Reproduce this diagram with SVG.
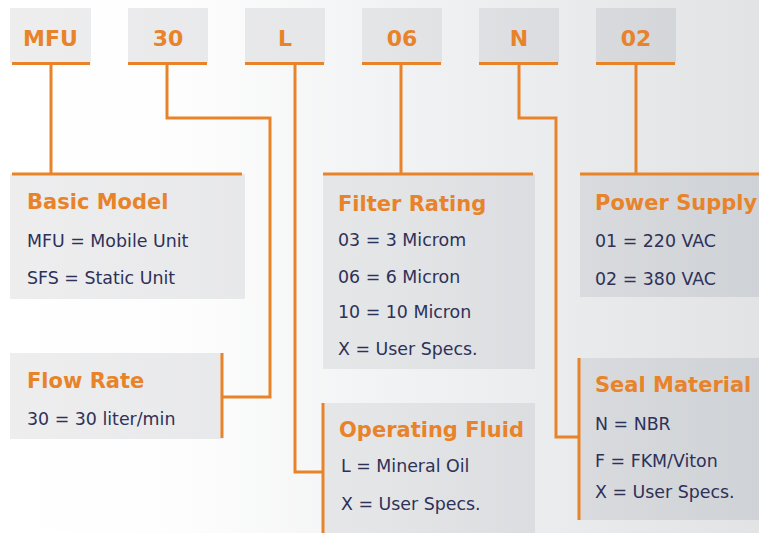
<svg xmlns="http://www.w3.org/2000/svg" width="759" height="533" viewBox="0 0 759 533">
<defs>
<linearGradient id="bg" x1="0" y1="0" x2="759" y2="0" gradientUnits="userSpaceOnUse">
<stop offset="0" stop-color="#ffffff"/><stop offset="0.25" stop-color="#fdfdfd"/><stop offset="0.5" stop-color="#f2f3f4"/><stop offset="1" stop-color="#e2e3e5"/>
</linearGradient>
<linearGradient id="box" x1="0" y1="0" x2="759" y2="0" gradientUnits="userSpaceOnUse">
<stop offset="0" stop-color="#eeeeef"/><stop offset="0.5" stop-color="#e4e5e7"/><stop offset="1" stop-color="#cfd2d6"/>
</linearGradient>
</defs>
<style>
.b{fill:url(#box)}
.w{stroke:#e8832a;stroke-width:3;fill:none}
.k{font-family:"DejaVu Sans","Liberation Sans",sans-serif;font-weight:bold;fill:#e8832a;font-size:22px;text-anchor:middle}
.t{font-family:"DejaVu Sans","Liberation Sans",sans-serif;font-weight:bold;fill:#e8832a;font-size:21px}
.d{font-family:"DejaVu Sans","Liberation Sans",sans-serif;fill:#2e3158;font-size:17.4px}
</style>
<rect width="759" height="533" fill="url(#bg)"/>
<g id="code-MFU"><rect class="b" x="10" y="8" width="81" height="55"/><text class="k" x="50.5" y="46">MFU</text></g>
<g id="code-30"><rect class="b" x="128" y="8" width="80" height="55"/><text class="k" x="168" y="46">30</text></g>
<g id="code-L"><rect class="b" x="245" y="8" width="80" height="55"/><text class="k" x="285" y="46">L</text></g>
<g id="code-06"><rect class="b" x="362" y="8" width="80" height="55"/><text class="k" x="402" y="46">06</text></g>
<g id="code-N"><rect class="b" x="479" y="8" width="80" height="55"/><text class="k" x="519" y="46">N</text></g>
<g id="code-02"><rect class="b" x="596" y="8" width="80" height="55"/><text class="k" x="636" y="46">02</text></g>

<g id="basic-model"><rect class="b" x="10" y="174" width="235" height="125"/>
<text class="t" x="27" y="209">Basic Model</text>
<text class="d" x="27" y="247">MFU = Mobile Unit</text>
<text class="d" x="27" y="284">SFS = Static Unit</text></g>
<g id="flow-rate"><rect class="b" x="10" y="353" width="212" height="86"/>
<text class="t" x="27" y="388">Flow Rate</text>
<text class="d" x="27" y="425">30 = 30 liter/min</text></g>
<g id="filter-rating"><rect class="b" x="323" y="174" width="212" height="195"/>
<text class="t" x="338" y="211">Filter Rating</text>
<text class="d" x="338" y="246">03 = 3 Microm</text>
<text class="d" x="338" y="283">06 = 6 Micron</text>
<text class="d" x="338" y="318">10 = 10 Micron</text>
<text class="d" x="338" y="355">X = User Specs.</text></g>
<g id="operating-fluid"><rect class="b" x="323" y="403" width="212" height="130"/>
<text class="t" x="339" y="437">Operating Fluid</text>
<text class="d" x="341" y="472">L = Mineral Oil</text>
<text class="d" x="341" y="510">X = User Specs.</text></g>
<g id="power-supply"><rect class="b" x="580" y="174" width="179" height="123"/>
<text class="t" x="595" y="210">Power Supply</text>
<text class="d" x="595" y="247">01 = 220 VAC</text>
<text class="d" x="595" y="285">02 = 380 VAC</text></g>
<g id="seal-material"><rect class="b" x="579" y="358" width="180" height="162"/>
<text class="t" x="595" y="392">Seal Material</text>
<text class="d" x="595" y="430">N = NBR</text>
<text class="d" x="595" y="467">F = FKM/Viton</text>
<text class="d" x="595" y="498">X = User Specs.</text></g>

<g id="connectors">
<path class="w" d="M12 63.5H90M128 63.5H207M245 63.5H324M362 63.5H441M479 63.5H558M596 63.5H675"/>
<path class="w" d="M12 174H242M323 174H533M580 174H759"/>
<path class="w" d="M51 63.5V174"/>
<path class="w" d="M167 63.5V118H270V397H222M222 353V438"/>
<path class="w" d="M295 63.5V472H323M323 403V533"/>
<path class="w" d="M401 63.5V174"/>
<path class="w" d="M519 63.5V118H556V437H579M579 358V520"/>
<path class="w" d="M636 63.5V174"/>
</g>
</svg>
